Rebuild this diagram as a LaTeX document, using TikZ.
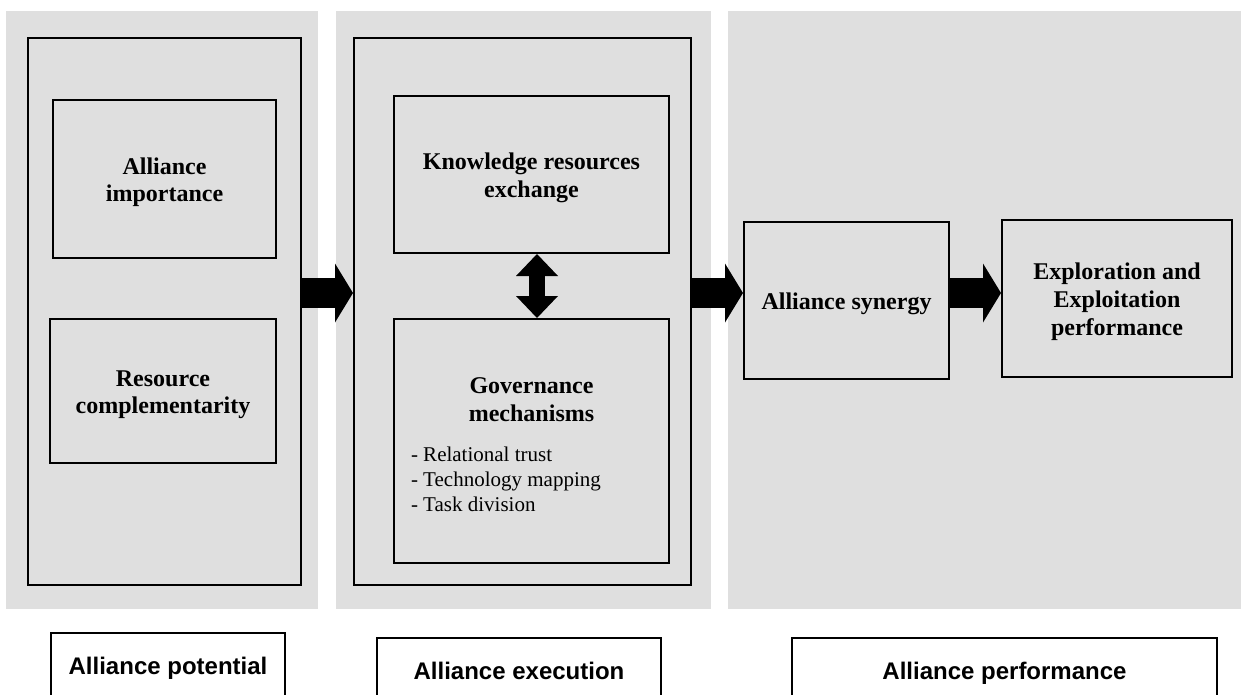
\documentclass[tikz,border=0pt]{standalone}
\usepackage{fontspec}
\setmainfont{Liberation Serif}
\setsansfont{Liberation Sans}
\usetikzlibrary{arrows.meta,positioning,calc}
\definecolor{panelgray}{HTML}{DFDFDF}
\newcommand{\hstrut}{\rule{0pt}{11.5pt}}
\tikzset{
  every picture/.style={line width=1pt},
  spanel/.style={fill=panelgray, draw=none},
  souter/.style={draw, rectangle, inner sep=0pt},
  sbox/.style={draw, rectangle, inner sep=0pt, align=center,
                  font=\fontsize{12}{13.8}\selectfont\bfseries},
  slabel/.style={draw, rectangle, inner sep=0pt, text height=8.6pt, text depth=2.5pt,
                  font=\sffamily\fontsize{12}{14}\selectfont\bfseries},
  sflow/.style={line width=15pt,
                  -{Triangle[length=9pt, width=29.5pt, line width=0pt]}},
  sswap/.style={line width=8pt,
                  {Triangle[length=11pt, width=21pt, line width=0pt]}-{Triangle[length=11pt, width=21pt, line width=0pt]}},
}

\begin{document}
\begin{tikzpicture}[x=0.5pt, y=-0.5pt]
  \useasboundingbox (0,0) rectangle (1241,695);
  \clip (0,0) rectangle (1241,695);
  % grey stage panels
  \fill[spanel] (6,11) rectangle (318,609);
  \fill[spanel] (336,11) rectangle (711,609);
  \fill[spanel] (728,11) rectangle (1241,609);
  % stage frames
  \node[souter, minimum width=136.5pt, minimum height=273.5pt] (pot) at (164.5,311.5) {};
  \node[souter, minimum width=168.5pt, minimum height=273.5pt] (exe) at (522.5,311.5) {};
  % constructs
  \node[sbox, minimum width=111.5pt, minimum height=78.5pt] (imp) at (164.5,179) {\hstrut Alliance\\ importance};
  \node[sbox, minimum width=113pt, minimum height=72pt] (com) at (163,391) {\hstrut Resource\\ complementarity};
  \node[sbox, minimum width=137.5pt, minimum height=78.5pt] (kre) at (531.5,174.5) {\hstrut Knowledge resources\\ exchange};
  \node[sbox, text width=120.5pt, align=flush left,
        minimum width=137.5pt, minimum height=122pt] (gov) at (531.5,441)
        {{\centering\hstrut Governance\\ mechanisms\par}\vspace{7.5pt}%
         {\normalfont\fontsize{10.5}{12.5}\selectfont - Relational trust\\ - Technology mapping\\ - Task division\par}};
  \node[sbox, minimum width=102.5pt, minimum height=78.5pt] (syn) at (846.5,300.5) {\hstrut Alliance synergy};
  \node[sbox, minimum width=115pt, minimum height=78.5pt] (exp) at (1117,298.5) {\hstrut Exploration and\\ Exploitation\\ performance};
  % stage captions
  \node[slabel, minimum width=117pt, minimum height=35pt] (lpot) at (168,668) {Alliance potential};
  \node[slabel, minimum width=142pt, minimum height=35pt] (lexe) at (519,673) {Alliance execution};
  \node[slabel, minimum width=212.5pt, minimum height=35pt] (lper) at (1004.5,673) {Alliance performance};
  % block arrows
  \coordinate (flow) at (0,293);
  \draw[sflow] (pot.east |- flow) -- (exe.west |- flow);
  \draw[sflow] (exe.east |- flow) -- (syn.west |- flow);
  \draw[sflow] (syn.east |- flow) -- (exp.west |- flow);
  \draw[sswap] ([xshift=2.75pt]kre.south) -- ([xshift=2.75pt]gov.north);
\end{tikzpicture}
\end{document}
